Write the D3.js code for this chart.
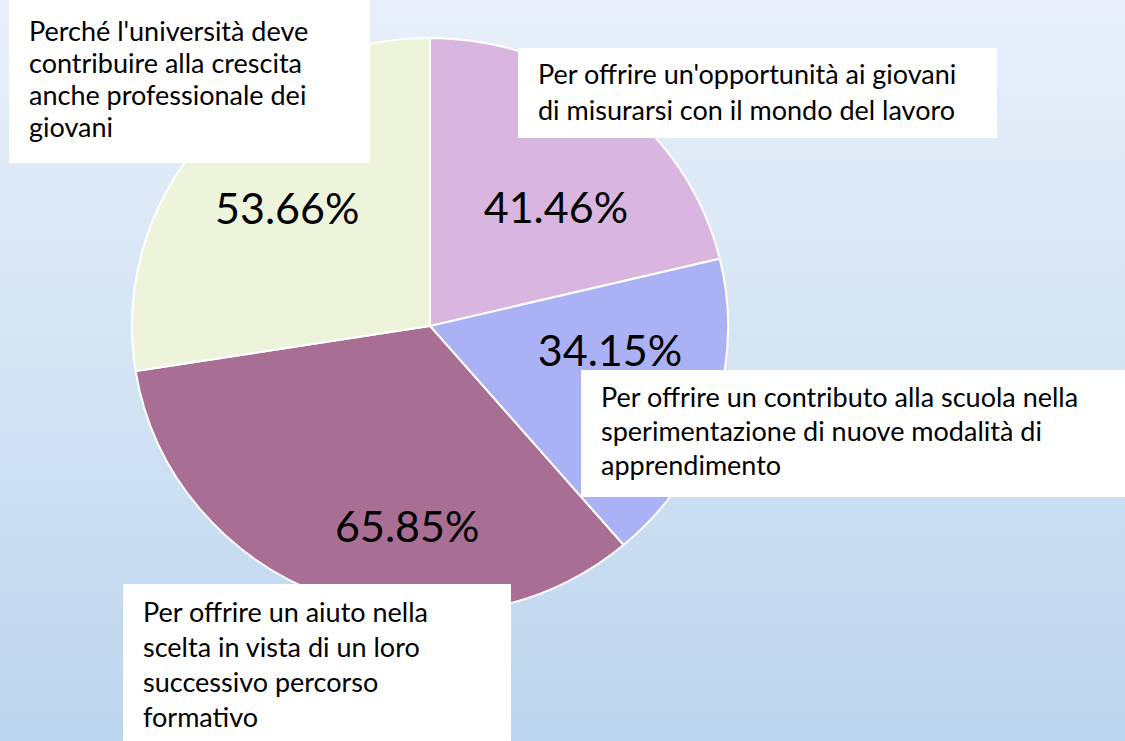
<!DOCTYPE html>
<html>
<head>
<meta charset="utf-8">
<script src="https://cdn.jsdelivr.net/npm/d3@7"></script>
<style>
  html, body { margin: 0; padding: 0; overflow: hidden; }
  svg { display: block; }
  text { font-family: Lato, "Open Sans", sans-serif; fill: #000; }
</style>
</head>
<body>
<div id="chart"></div>
<script>
// data
var categories = [
    "Per offrire un'opportunità ai giovani di misurarsi con il mondo del lavoro",
    "Per offrire un contributo alla scuola nella sperimentazione di nuove modalità di apprendimento",
    "Per offrire un aiuto nella scelta in vista di un loro successivo percorso formativo",
    "Perché l'università deve contribuire alla crescita anche professionale dei giovani"
];
var values = [41.46, 34.15, 65.85, 53.66];
var sliceColors = ["#D8B6E0", "#AAB1F4", "#A86E94", "#EEF3DC"];

// layout
var W = 1125, H = 741;
var cx = 430, cy = 326, rx = 298, ry = 288;

// where the value labels sit (angle shift in degrees, radius as share of r)
var labelShift = [7.5, -10, -14, 0];
var labelRadius = [0.59, 0.61, 0.70, 0.63];

// callout boxes for the category names
var boxes = [
    { x: 518, y: 48, w: 479, h: 90, top: 36, lh: 36 },
    { x: 581, y: 370, w: 560, h: 127, top: 37, lh: 34 },
    { x: 123, y: 584, w: 388, h: 170, top: 38, lh: 35 },
    { x: 9, y: -4, w: 361, h: 167, top: 45, lh: 32 }
];

var svg = d3.select("#chart").append("svg")
    .attr("width", W)
    .attr("height", H);

// background gradient
var grad = svg.append("defs").append("linearGradient")
    .attr("id", "bg")
    .attr("x1", 0).attr("y1", 0).attr("x2", 0).attr("y2", 1);
grad.append("stop").attr("offset", "0%").attr("stop-color", "#E8EFFA");
grad.append("stop").attr("offset", "45%").attr("stop-color", "#D6E5F4");
grad.append("stop").attr("offset", "100%").attr("stop-color", "#BCD5EE");

svg.append("rect")
    .attr("width", W)
    .attr("height", H)
    .attr("fill", "url(#bg)");

var pieGenerator = d3.pie()
    .sort(null)
    .value(function (d) { return d; });

var arcData = pieGenerator(values);

var arcGenerator = d3.arc()
    .innerRadius(0)
    .outerRadius(rx);

// slightly squashed pie, as in the original slide
var pie_g = svg.append("g")
    .attr("transform", "translate(" + cx + "," + cy + ") scale(1," + (ry / rx) + ")");

pie_g.selectAll("path")
    .data(arcData)
    .enter()
    .append("path")
    .attr("d", arcGenerator)
    .attr("fill", function (d, i) { return sliceColors[i]; })
    .attr("stroke", "#fff")
    .attr("stroke-width", 2)
    .attr("vector-effect", "non-scaling-stroke");

// value labels
svg.append("g").selectAll("text")
    .data(arcData)
    .enter()
    .append("text")
    .each(function (d, i) {
        var a = (d.startAngle + d.endAngle) / 2 + labelShift[i] * Math.PI / 180;
        var r = labelRadius[i];
        d3.select(this)
            .attr("x", cx + Math.sin(a) * r * rx)
            .attr("y", cy - Math.cos(a) * r * ry)
            .attr("dy", "0.36em")
            .text(d.data.toFixed(2) + "%");
    })
    .attr("text-anchor", "middle")
    .attr("font-size", 43);

// category callouts
var callouts = svg.append("g").selectAll("g")
    .data(arcData)
    .enter()
    .append("g");

callouts.append("rect")
    .attr("x", function (d, i) { return boxes[i].x; })
    .attr("y", function (d, i) { return boxes[i].y; })
    .attr("width", function (d, i) { return boxes[i].w; })
    .attr("height", function (d, i) { return boxes[i].h; })
    .attr("fill", "#fff");

callouts.each(function (d, i) {
    var b = boxes[i];
    var maxW = b.w - 40;
    var text = d3.select(this).append("text")
        .attr("font-size", 27);
    var words = categories[i].split(" ");
    var line = [];
    var lineNo = 0;
    var tspan = text.append("tspan")
        .attr("x", b.x + 20)
        .attr("y", b.y + b.top);
    words.forEach(function (w) {
        line.push(w);
        tspan.text(line.join(" "));
        if (tspan.node().getComputedTextLength() > maxW && line.length > 1) {
            line.pop();
            tspan.text(line.join(" "));
            line = [w];
            lineNo++;
            tspan = text.append("tspan")
                .attr("x", b.x + 20)
                .attr("y", b.y + b.top + lineNo * b.lh)
                .text(w);
        }
    });
});
</script>
</body>
</html>
